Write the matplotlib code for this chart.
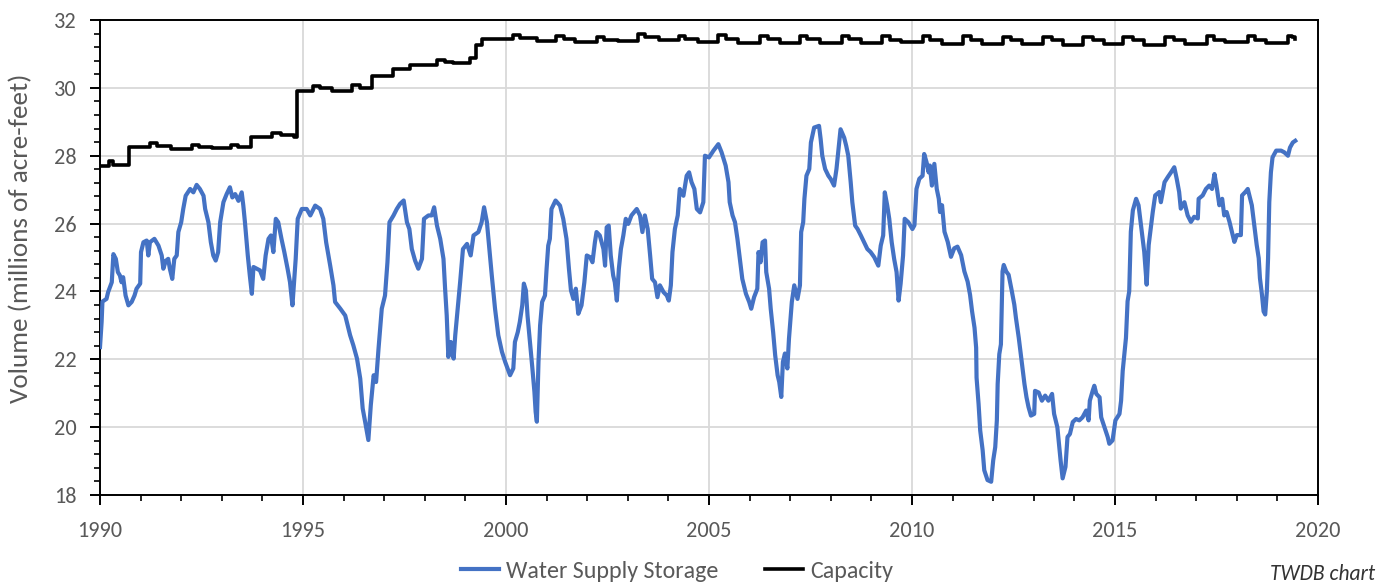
import matplotlib
matplotlib.use("Agg")
import matplotlib.pyplot as plt
from matplotlib.ticker import MultipleLocator
from matplotlib import font_manager

# ---------------- data ----------------
storage_years = [
    1990.00, 1990.04, 1990.06, 1990.16, 1990.20, 1990.29, 1990.33, 1990.39, 1990.44, 1990.49,
    1990.53, 1990.57, 1990.63, 1990.70, 1990.78, 1990.85, 1990.90, 1990.99, 1991.01, 1991.07,
    1991.15, 1991.19, 1991.23, 1991.34, 1991.44, 1991.52, 1991.56, 1991.62, 1991.68, 1991.72,
    1991.78, 1991.83, 1991.89, 1991.93, 1992.00, 1992.05, 1992.11, 1992.22, 1992.30, 1992.38,
    1992.46, 1992.55, 1992.59, 1992.67, 1992.73, 1992.79, 1992.85, 1992.91, 1992.96, 1993.04,
    1993.12, 1993.20, 1993.26, 1993.33, 1993.41, 1993.49, 1993.53, 1993.57, 1993.64, 1993.69,
    1993.74, 1993.78, 1993.86, 1993.94, 1994.02, 1994.08, 1994.15, 1994.21, 1994.27, 1994.33,
    1994.39, 1994.47, 1994.54, 1994.62, 1994.68, 1994.74, 1994.79, 1994.82, 1994.87, 1994.97,
    1995.09, 1995.18, 1995.30, 1995.42, 1995.50, 1995.57, 1995.67, 1995.75, 1995.79, 1995.92,
    1996.04, 1996.16, 1996.24, 1996.33, 1996.41, 1996.47, 1996.53, 1996.61, 1996.67, 1996.74,
    1996.80, 1996.86, 1996.94, 1997.02, 1997.08, 1997.13, 1997.23, 1997.31, 1997.39, 1997.48,
    1997.56, 1997.62, 1997.68, 1997.76, 1997.84, 1997.93, 1997.98, 1998.09, 1998.17, 1998.23,
    1998.30, 1998.38, 1998.46, 1998.50, 1998.54, 1998.58, 1998.64, 1998.71, 1998.75, 1998.81,
    1998.87, 1998.94, 1999.04, 1999.13, 1999.20, 1999.32, 1999.40, 1999.46, 1999.53, 1999.59,
    1999.65, 1999.73, 1999.81, 1999.90, 1999.98, 2000.10, 2000.18, 2000.22, 2000.29, 2000.34,
    2000.40, 2000.44, 2000.49, 2000.53, 2000.59, 2000.65, 2000.70, 2000.73, 2000.76, 2000.80,
    2000.84, 2000.89, 2000.96, 2001.00, 2001.04, 2001.08, 2001.12, 2001.22, 2001.33, 2001.41,
    2001.49, 2001.55, 2001.60, 2001.66, 2001.72, 2001.78, 2001.86, 2001.93, 2001.99, 2002.07,
    2002.13, 2002.19, 2002.23, 2002.31, 2002.40, 2002.44, 2002.48, 2002.53, 2002.58, 2002.64,
    2002.68, 2002.73, 2002.78, 2002.83, 2002.89, 2002.95, 2003.01, 2003.09, 2003.22, 2003.30,
    2003.36, 2003.42, 2003.49, 2003.55, 2003.60, 2003.67, 2003.73, 2003.79, 2003.88, 2003.96,
    2004.01, 2004.06, 2004.10, 2004.16, 2004.23, 2004.28, 2004.37, 2004.45, 2004.51, 2004.57,
    2004.64, 2004.70, 2004.78, 2004.86, 2004.90, 2005.00, 2005.11, 2005.23, 2005.31, 2005.41,
    2005.48, 2005.51, 2005.58, 2005.64, 2005.70, 2005.76, 2005.82, 2005.91, 2005.99, 2006.04,
    2006.11, 2006.19, 2006.22, 2006.27, 2006.32, 2006.38, 2006.41, 2006.48, 2006.52, 2006.58,
    2006.63, 2006.69, 2006.73, 2006.78, 2006.82, 2006.87, 2006.93, 2006.97, 2007.04, 2007.10,
    2007.18, 2007.24, 2007.27, 2007.32, 2007.35, 2007.40, 2007.47, 2007.51, 2007.59, 2007.71,
    2007.75, 2007.79, 2007.86, 2007.94, 2008.00, 2008.08, 2008.14, 2008.19, 2008.24, 2008.33,
    2008.38, 2008.43, 2008.49, 2008.53, 2008.60, 2008.66, 2008.74, 2008.82, 2008.90, 2008.98,
    2009.07, 2009.17, 2009.23, 2009.29, 2009.33, 2009.39, 2009.44, 2009.50, 2009.56, 2009.62,
    2009.67, 2009.72, 2009.78, 2009.82, 2009.91, 2010.01, 2010.06, 2010.11, 2010.18, 2010.26,
    2010.30, 2010.36, 2010.41, 2010.44, 2010.49, 2010.55, 2010.61, 2010.66, 2010.69, 2010.74,
    2010.80, 2010.88, 2010.96, 2011.04, 2011.12, 2011.21, 2011.29, 2011.37, 2011.43, 2011.48,
    2011.54, 2011.58, 2011.59, 2011.64, 2011.68, 2011.74, 2011.78, 2011.86, 2011.95, 2012.00,
    2012.05, 2012.09, 2012.11, 2012.15, 2012.19, 2012.23, 2012.26, 2012.32, 2012.38, 2012.46,
    2012.52, 2012.56, 2012.63, 2012.68, 2012.73, 2012.77, 2012.82, 2012.87, 2012.93, 2013.01,
    2013.03, 2013.12, 2013.20, 2013.28, 2013.36, 2013.45, 2013.50, 2013.58, 2013.62, 2013.66,
    2013.71, 2013.78, 2013.83, 2013.89, 2013.96, 2014.04, 2014.12, 2014.20, 2014.29, 2014.35,
    2014.38, 2014.45, 2014.49, 2014.54, 2014.62, 2014.66, 2014.74, 2014.82, 2014.86, 2014.94,
    2015.01, 2015.11, 2015.15, 2015.19, 2015.23, 2015.27, 2015.31, 2015.35, 2015.39, 2015.44,
    2015.52, 2015.58, 2015.64, 2015.68, 2015.72, 2015.78, 2015.83, 2015.89, 2015.93, 2015.99,
    2016.09, 2016.13, 2016.22, 2016.30, 2016.38, 2016.46, 2016.52, 2016.58, 2016.62, 2016.71,
    2016.79, 2016.87, 2016.95, 2017.04, 2017.06, 2017.16, 2017.24, 2017.32, 2017.39, 2017.45,
    2017.50, 2017.57, 2017.64, 2017.69, 2017.75, 2017.82, 2017.88, 2017.94, 2018.00, 2018.10,
    2018.13, 2018.21, 2018.27, 2018.33, 2018.37, 2018.43, 2018.49, 2018.54, 2018.57, 2018.62,
    2018.66, 2018.70, 2018.74, 2018.77, 2018.80, 2018.84, 2018.88, 2018.97, 2019.09, 2019.17,
    2019.26, 2019.31, 2019.38, 2019.44,
]
storage_values = [
    22.36, 23.10, 23.70, 23.78, 23.98, 24.27, 25.10, 24.96, 24.57, 24.47,
    24.27, 24.42, 23.88, 23.59, 23.69, 23.88, 24.08, 24.23, 25.16, 25.45,
    25.50, 25.06, 25.45, 25.55, 25.35, 25.06, 24.67, 24.90, 24.96, 24.67,
    24.37, 24.96, 25.06, 25.75, 26.04, 26.43, 26.82, 27.02, 26.92, 27.14,
    27.02, 26.82, 26.43, 26.04, 25.45, 25.06, 24.91, 25.16, 26.04, 26.63,
    26.87, 27.07, 26.77, 26.87, 26.67, 26.92, 26.53, 26.04, 25.06, 24.47,
    23.93, 24.72, 24.67, 24.62, 24.37, 25.06, 25.55, 25.65, 25.16, 26.14,
    26.04, 25.55, 25.16, 24.67, 24.27, 23.59, 24.47, 24.96, 26.14, 26.43,
    26.43, 26.24, 26.53, 26.43, 26.14, 25.45, 24.76, 24.18, 23.69, 23.49,
    23.29, 22.71, 22.41, 22.02, 21.43, 20.55, 20.16, 19.62, 20.65, 21.53,
    21.33, 22.31, 23.49, 23.88, 24.86, 26.04, 26.24, 26.43, 26.58, 26.68,
    26.04, 25.84, 25.25, 24.91, 24.67, 24.96, 26.14, 26.24, 26.24, 26.48,
    25.94, 25.55, 24.96, 24.08, 23.29, 22.07, 22.51, 22.02, 22.71, 23.49,
    24.27, 25.25, 25.40, 25.06, 25.65, 25.75, 26.04, 26.48, 26.04, 25.25,
    24.47, 23.49, 22.71, 22.22, 21.92, 21.53, 21.73, 22.51, 22.80, 23.10,
    23.59, 24.23, 24.03, 23.29, 22.51, 21.73, 21.04, 20.45, 20.16, 21.92,
    23.00, 23.69, 23.88, 24.67, 25.35, 25.55, 26.43, 26.68, 26.53, 26.14,
    25.55, 24.67, 24.03, 23.78, 24.08, 23.34, 23.59, 24.27, 25.06, 25.01,
    24.86, 25.45, 25.75, 25.65, 25.25, 24.76, 25.89, 25.94, 25.06, 24.47,
    24.27, 23.73, 24.67, 25.25, 25.65, 26.14, 25.99, 26.24, 26.43, 26.24,
    25.75, 26.24, 25.84, 25.06, 24.37, 24.27, 23.83, 24.18, 23.98, 23.88,
    23.73, 24.18, 25.16, 25.84, 26.24, 27.02, 26.82, 27.41, 27.51, 27.22,
    27.02, 26.43, 26.33, 26.63, 28.00, 27.95, 28.15, 28.34, 28.10, 27.71,
    27.22, 26.63, 26.24, 26.04, 25.55, 24.96, 24.37, 23.93, 23.69, 23.49,
    23.83, 24.08, 25.16, 24.86, 25.45, 25.50, 24.57, 24.08, 23.49, 22.80,
    22.12, 21.53, 21.33, 20.89, 21.92, 22.17, 21.73, 22.61, 23.69, 24.18,
    23.78, 24.18, 25.75, 26.04, 26.73, 27.41, 27.61, 28.39, 28.83, 28.88,
    28.49, 28.00, 27.61, 27.41, 27.31, 27.12, 27.61, 28.20, 28.78, 28.53,
    28.29, 28.00, 27.22, 26.63, 25.94, 25.84, 25.65, 25.45, 25.25, 25.16,
    25.01, 24.76, 25.35, 25.65, 26.92, 26.53, 26.14, 25.45, 24.96, 24.57,
    23.73, 24.23, 25.06, 26.14, 26.04, 25.84, 25.95, 27.02, 27.32, 27.41,
    28.05, 27.80, 27.51, 27.71, 27.12, 27.76, 27.02, 26.73, 26.34, 26.54,
    25.76, 25.46, 25.02, 25.27, 25.32, 25.07, 24.59, 24.29, 23.90, 23.41,
    22.93, 22.34, 21.46, 20.68, 19.90, 19.32, 18.73, 18.44, 18.39, 19.02,
    19.41, 20.20, 21.27, 22.15, 22.44, 24.59, 24.78, 24.59, 24.49, 24.00,
    23.61, 23.22, 22.63, 22.15, 21.66, 21.27, 20.88, 20.59, 20.34, 20.39,
    21.07, 21.02, 20.78, 20.93, 20.78, 20.98, 20.39, 20.00, 19.51, 19.02,
    18.49, 18.83, 19.71, 19.80, 20.15, 20.24, 20.20, 20.29, 20.49, 20.20,
    20.78, 21.07, 21.22, 20.98, 20.88, 20.29, 20.00, 19.71, 19.51, 19.61,
    20.20, 20.39, 20.78, 21.66, 22.15, 22.63, 23.71, 24.00, 25.76, 26.39,
    26.73, 26.54, 25.95, 25.56, 25.17, 24.20, 25.37, 25.95, 26.34, 26.83,
    26.93, 26.63, 27.22, 27.37, 27.51, 27.66, 27.32, 26.93, 26.44, 26.63,
    26.24, 26.05, 26.20, 26.15, 26.73, 26.83, 27.02, 27.12, 27.02, 27.46,
    27.12, 26.54, 26.73, 26.24, 26.34, 26.05, 25.76, 25.46, 25.66, 25.66,
    26.83, 26.93, 27.02, 26.73, 26.54, 25.95, 25.37, 24.98, 24.39, 23.90,
    23.41, 23.32, 24.00, 24.98, 26.63, 27.51, 27.95, 28.15, 28.15, 28.10,
    28.00, 28.24, 28.39, 28.44,
]

cap_years = [
    1990.00, 1990.21, 1990.33, 1990.71, 1991.22, 1991.40, 1991.75, 1992.27, 1992.45, 1992.75,
    1993.23, 1993.40, 1993.71, 1994.24, 1994.45, 1994.77, 1994.86, 1995.24, 1995.42, 1995.72,
    1996.20, 1996.40, 1996.70, 1997.21, 1997.64, 1998.31, 1998.50, 1998.69, 1999.12, 1999.27,
    1999.41, 2000.18, 2000.35, 2000.76, 2001.24, 2001.42, 2001.71, 2002.24, 2002.42, 2002.76,
    2003.25, 2003.42, 2003.77, 2004.25, 2004.42, 2004.73, 2005.22, 2005.42, 2005.72, 2006.26,
    2006.45, 2006.74, 2007.24, 2007.42, 2007.74, 2008.27, 2008.45, 2008.75, 2009.26, 2009.45,
    2009.74, 2010.27, 2010.45, 2010.74, 2011.26, 2011.45, 2011.72, 2012.24, 2012.45, 2012.72,
    2013.23, 2013.45, 2013.72, 2014.21, 2014.45, 2014.72, 2015.20, 2015.45, 2015.72, 2016.23,
    2016.45, 2016.72, 2017.26, 2017.45, 2017.72, 2018.28, 2018.45, 2018.72, 2019.26, 2019.36,
    2019.44,
]
cap_values = [
    27.70, 27.85, 27.73, 28.27, 28.38, 28.30, 28.20, 28.33, 28.27, 28.22,
    28.33, 28.27, 28.55, 28.68, 28.62, 28.55, 29.92, 30.06, 30.00, 29.90,
    30.08, 30.00, 30.35, 30.55, 30.68, 30.82, 30.76, 30.72, 30.87, 31.25,
    31.45, 31.57, 31.48, 31.38, 31.52, 31.44, 31.34, 31.50, 31.42, 31.38,
    31.60, 31.50, 31.40, 31.52, 31.45, 31.35, 31.55, 31.45, 31.33, 31.53,
    31.43, 31.33, 31.53, 31.43, 31.32, 31.53, 31.43, 31.32, 31.53, 31.42,
    31.35, 31.52, 31.42, 31.30, 31.52, 31.40, 31.28, 31.50, 31.40, 31.28,
    31.50, 31.40, 31.27, 31.50, 31.40, 31.28, 31.50, 31.40, 31.26, 31.50,
    31.40, 31.30, 31.52, 31.42, 31.35, 31.53, 31.40, 31.33, 31.52, 31.50,
    31.43,
]

x_ticks = [1990, 1995, 2000, 2005, 2010, 2015, 2020]
y_ticks = [18, 20, 22, 24, 26, 28, 30, 32]

# ---------------- style ----------------
names = {f.name for f in font_manager.fontManager.ttflist}
base_font = "DejaVu Sans"
for cand in ["Carlito", "Lato", "Open Sans"]:
    if cand in names:
        base_font = cand
        break
plt.rcParams["font.family"] = [base_font, "DejaVu Sans"]

GRAY = "#595959"
BLUE = "#4472C4"
W, H = 1389, 586

fig = plt.figure(figsize=(13.89, 5.86), dpi=100)
ax = fig.add_axes([100 / W, 1 - 495 / H, (1318 - 100) / W, (495 - 20) / H])

ax.plot(storage_years, storage_values, color=BLUE, lw=3.0, solid_joinstyle="round",
        label="Water Supply Storage", zorder=3)
ax.plot(cap_years, cap_values, color="black", lw=2.6, drawstyle="steps-post",
        label="Capacity", zorder=3)

ax.set_xlim(1990, 2020)
ax.set_ylim(18, 32)
ax.set_xticks(x_ticks)
ax.set_yticks(y_ticks)
ax.xaxis.set_minor_locator(MultipleLocator(1))
ax.yaxis.set_minor_locator(MultipleLocator(0.4))
ax.grid(True, which="major", color="#d9d9d9", lw=1.3, zorder=0)
ax.set_axisbelow(True)

for s in ax.spines.values():
    s.set_color("black")
    s.set_linewidth(1.4)

ax.tick_params(axis="both", which="major", direction="out", length=7, width=1.4,
               colors="black", labelcolor=GRAY, labelsize=16)
ax.tick_params(axis="both", which="minor", direction="out", length=4, width=1.2, colors="black")
ax.tick_params(axis="x", pad=12)
ax.tick_params(axis="y", pad=10)

fig.text(21 / W, 1 - 238 / H, "Volume (millions of acre-feet)", rotation=90,
         ha="center", va="center", color=GRAY, fontsize=19.5)

fig.legend(loc="center", bbox_to_anchor=(677 / W, 1 - 571 / H), ncol=2, frameon=False,
           fontsize=17.3, labelcolor=GRAY, handlelength=1.6, columnspacing=1.9,
           handletextpad=0.3)

fig.text(0.99, 1 - 564 / H, "TWDB chart", ha="right", va="top", fontsize=15.5,
         style="italic", color="#333333")

fig.savefig("out.png", dpi=100)
